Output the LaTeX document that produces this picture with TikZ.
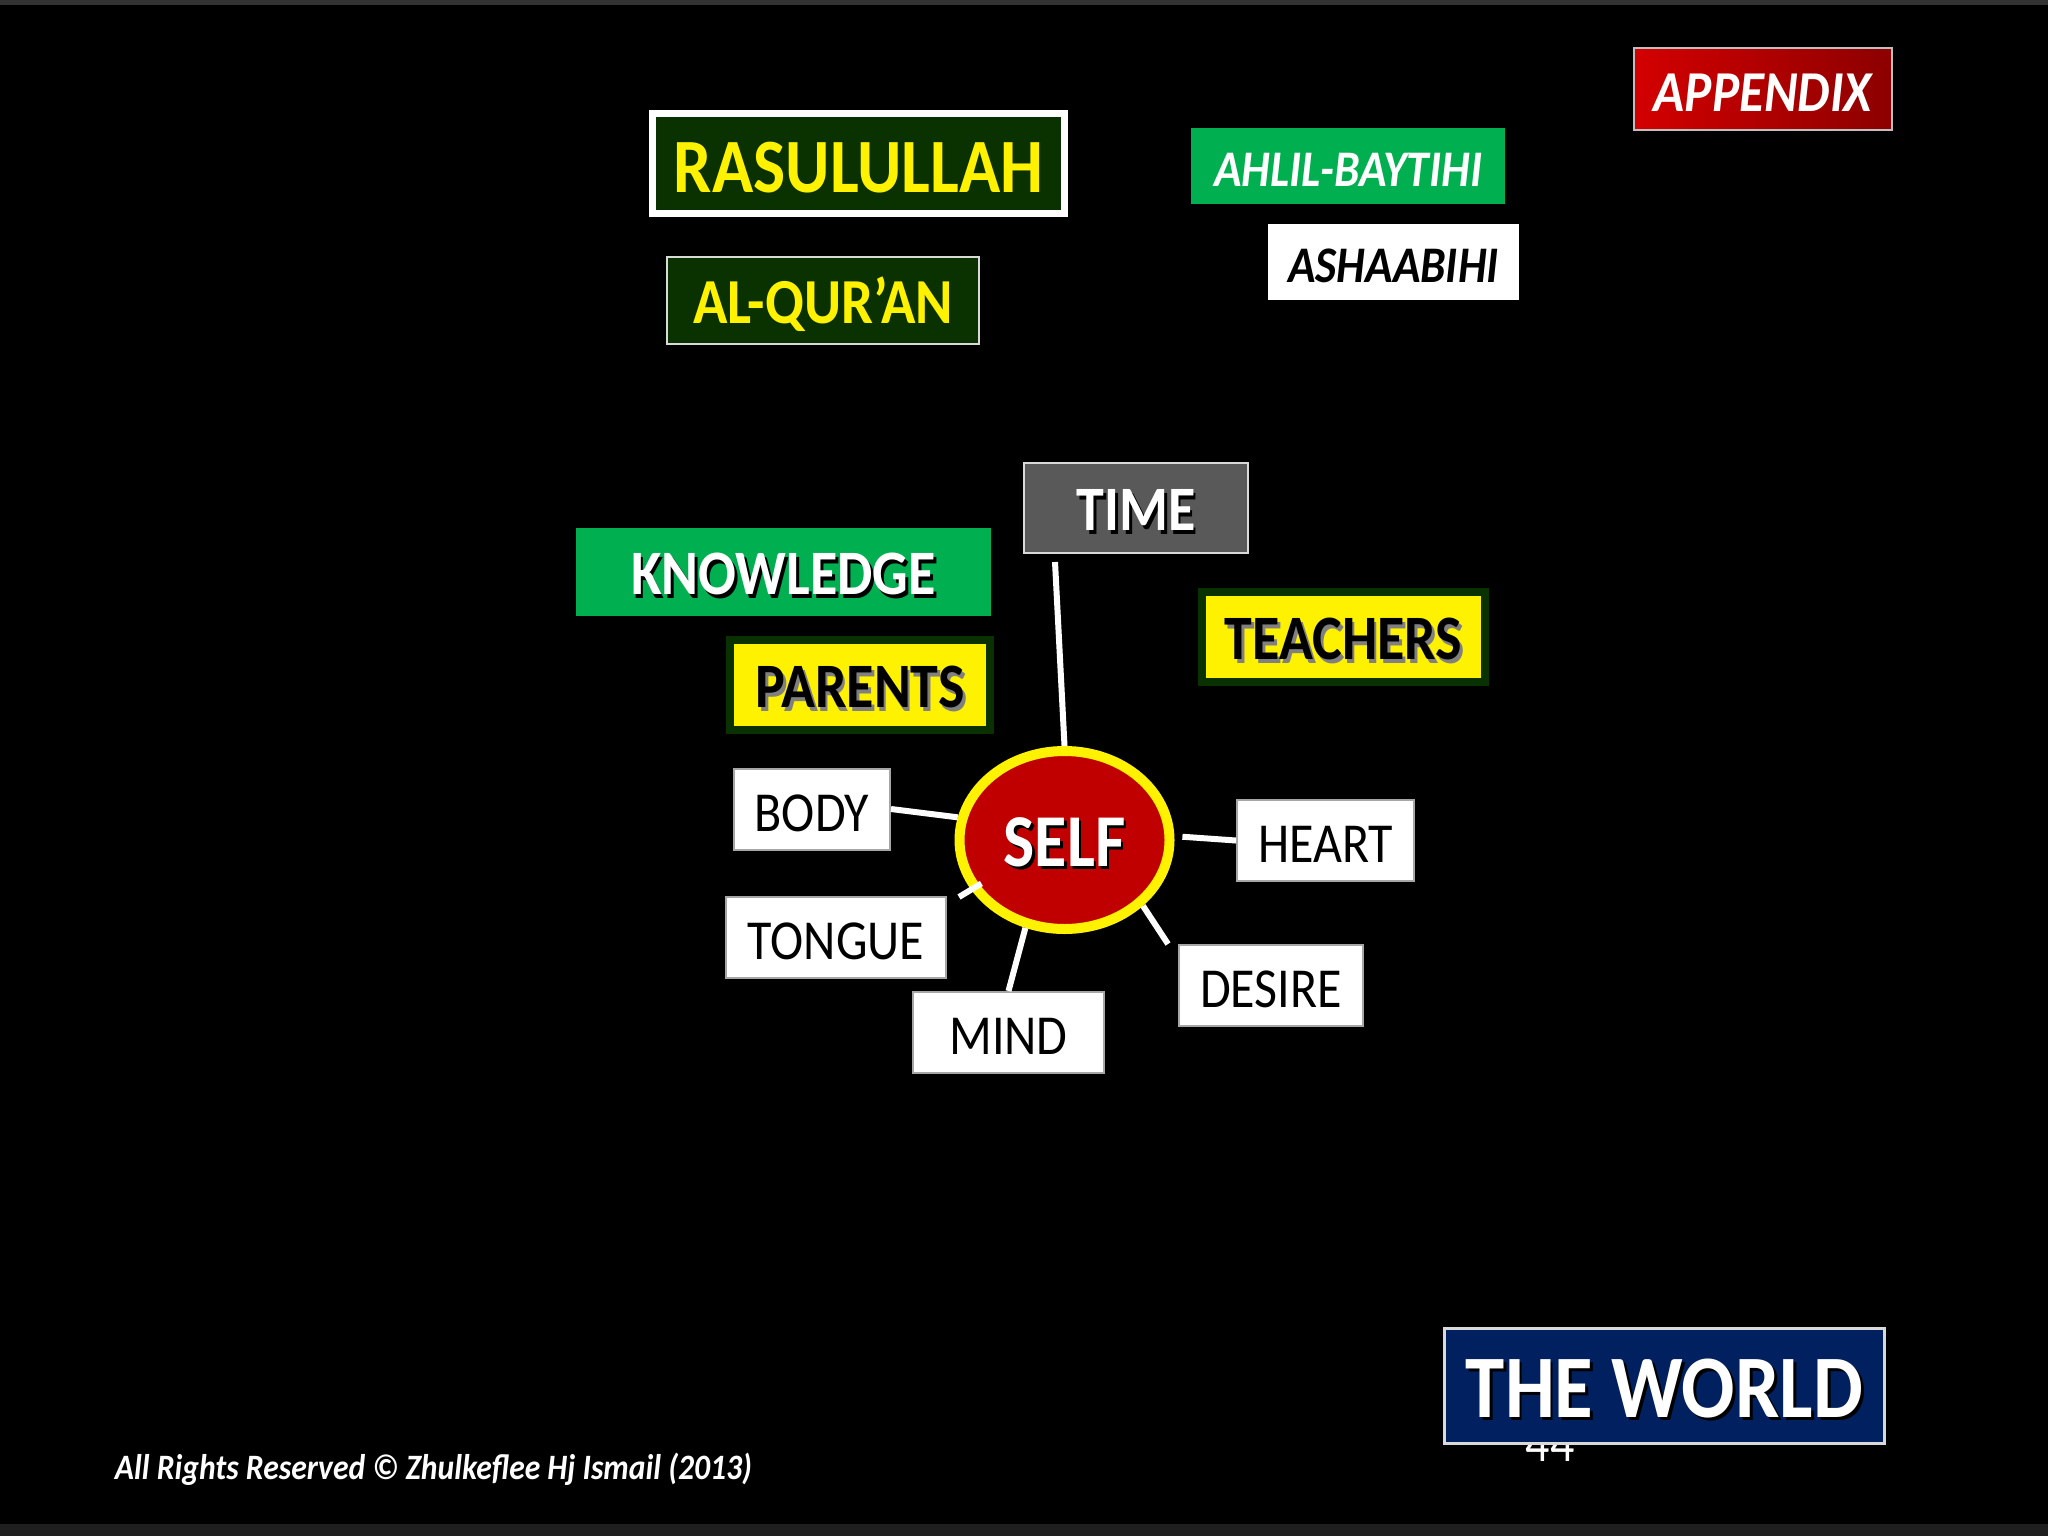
\documentclass[tikz,border=0pt]{standalone}
\usepackage{fontspec}
\setmainfont{Carlito}
\usepackage{graphicx}
\usetikzlibrary{positioning,shapes.geometric}
\definecolor{forest}{RGB}{10,50,0}
\definecolor{leaf}{RGB}{0,176,80}
\definecolor{slate}{RGB}{89,89,89}
\definecolor{blood}{RGB}{192,0,0}
\definecolor{navy}{RGB}{0,32,96}
\newcommand{\tallt}[1]{\raisebox{-2pt}[\height][\depth]{\scalebox{1}[1.13]{#1}}}
\newcommand{\castshadow}[2]{\makebox[0pt][l]{\kern1.4pt\raisebox{-1.4pt}{\textcolor{#1}{#2}}}#2}
\tikzstyle{plate}=[
	rectangle,
	inner sep=0pt,
	align=center
]
\tikzstyle{darkplate}=[
	plate,
	fill=forest,
	draw=white,
	text=yellow,
	font=\bfseries
]
\tikzstyle{leafplate}=[
	plate,
	fill=leaf,
	text=white
]
\tikzstyle{yellowplate}=[
	plate,
	fill=yellow,
	draw=forest,
	line width=4pt,
	minimum height=45pt,
	font=\bfseries\fontsize{28}{34}\selectfont
]
\tikzstyle{limb}=[
	plate,
	fill=white,
	draw=gray!70,
	line width=1pt,
	minimum height=40.5pt,
	font=\fontsize{25}{30}\selectfont
]
\tikzstyle{link}=[
	white,
	line width=3pt
]

\begin{document}
\begin{tikzpicture}[x=0.5pt,y=-0.5pt]
\useasboundingbox (0,0) rectangle (2048,1536);
\fill[black] (0,0) rectangle (2048,1536);
\fill[black!88!white] (0,1524) rectangle (2048,1536);
\fill[black!80!white] (0,0) rectangle (2048,5);

% top row
\node [darkplate, line width=3.5pt, minimum width=206pt, minimum height=50pt,
	font=\bfseries\fontsize{34}{40}\selectfont] (Rasul) at (858.5,163.5) {\tallt{RASULULLAH}};
\node [darkplate, line width=1pt, draw=white!85!black, minimum width=156pt, minimum height=43.5pt,
	font=\bfseries\fontsize{28.4}{34}\selectfont] (Quran)
	[below right=19.5pt and 8.5pt of Rasul.south west] {\tallt{AL-QUR’AN}};
\node [leafplate, minimum width=157pt, minimum height=38pt,
	font=\bfseries\itshape\fontsize{22.7}{28}\selectfont] (Ahlil) at (1348,166) {\tallt{AHLIL-BAYTIHI}};
\node [plate, fill=white, minimum width=125.5pt, minimum height=38pt,
	font=\bfseries\itshape\fontsize{22.7}{28}\selectfont] (Ashaab)
	[below right=9.5pt and 38.5pt of Ahlil.south west] {\tallt{ASHAABIHI}};
\node [plate, left color={rgb,255:red,212;green,0;blue,0}, right color={rgb,255:red,140;green,0;blue,0},
	draw=white!75!black, line width=0.75pt, minimum width=129pt, minimum height=41pt, text=white,
	font=\bfseries\itshape\fontsize{25.6}{30}\selectfont] (Appendix) at (1763,89) {\tallt{APPENDIX}};

% around the self
\node [plate, fill=slate, draw=white!85!black, line width=1pt, minimum width=112pt, minimum height=45pt,
	text=white, font=\bfseries\fontsize{28}{34}\selectfont] (Time) at (1136,508) {\tallt{\castshadow{black}{TIME}}};
\node [leafplate, minimum width=207.5pt, minimum height=44pt,
	font=\bfseries\fontsize{28}{34}\selectfont] (Knowledge) at (783.5,572) {\tallt{\castshadow{black}{KNOWLEDGE}}};
\node [yellowplate, minimum width=130pt] (Parents) at (860,685) {\tallt{\castshadow{gray}{PARENTS}}};
\node [yellowplate, minimum width=141.5pt] (Teachers) at (1343.5,637) {\tallt{\castshadow{gray}{TEACHERS}}};
\node [ellipse, fill=blood, draw=yellow, line width=5pt, inner sep=0pt, minimum width=105pt, minimum height=89pt,
	text=white, font=\bfseries\fontsize{33}{40}\selectfont] (Self) at (1064.5,840) {\tallt{\castshadow{black}{SELF}}};
\node [limb, minimum width=78pt] (Body) at (812,809) {\tallt{BODY}};
\node [limb, minimum width=88.5pt] (Heart) at (1325.5,840.5) {\tallt{HEART}};
\node [limb, minimum width=110pt] (Tongue) at (836,937) {\tallt{TONGUE}};
\node [limb, minimum width=95.5pt] (Mind) at (1008.5,1032.5) {\tallt{MIND}};
\node [limb, minimum width=92pt] (Desire) at (1271,985.5) {\tallt{DESIRE}};
\coordinate (TongueTip) at (959,897);

\draw [link] ([xshift=-40.5pt,yshift=-4pt]Time.south) -- (Self.north);
\draw [link] (Body.east) -- (Self.168);
\draw [link, shorten <=4pt] (Self.2) -- (Heart.west);
\draw [link, shorten <=-6pt] (Self.208) -- (TongueTip);
\draw [link] (Self.246) -- (Mind.north);
\draw [link] (Self.320) -- ([xshift=-5pt]Desire.north west);

% footer
\node [text=white, font=\fontsize{24}{28}\selectfont] (PageNo) at (1550,1440) {\tallt{44}};
\node [plate, fill=navy, draw=white!85!black, line width=1.5pt, minimum width=220pt, minimum height=57.5pt,
	text=white, font=\bfseries\fontsize{39.5}{46}\selectfont] (World) at (1664.5,1386) {\tallt{\castshadow{black}{THE WORLD}}};
\node [text=white, font=\bfseries\itshape\fontsize{15.8}{19}\selectfont] (Rights) at (433.5,1465)
	{\tallt{All Rights Reserved © Zhulkeflee Hj Ismail (2013)}};
\end{tikzpicture}
\end{document}
